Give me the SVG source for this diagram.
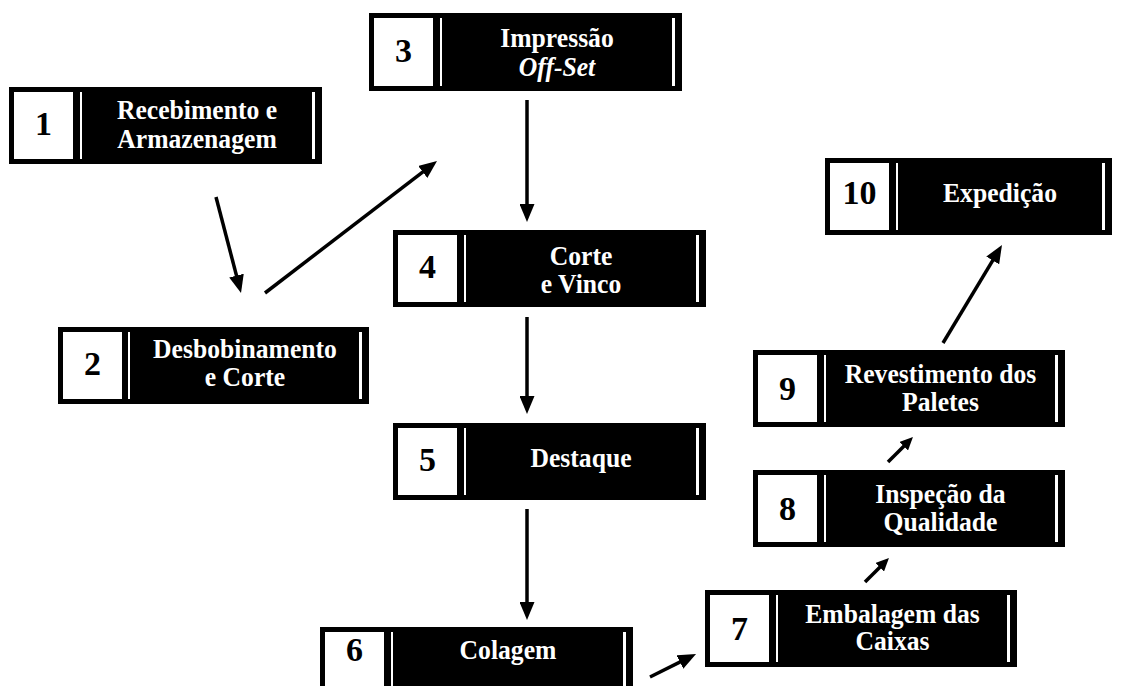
<svg xmlns="http://www.w3.org/2000/svg" width="1123" height="686" viewBox="0 0 1123 686">
  <style>
    .box { fill: #000; }
    .sq { fill: #fff; }
    .bar { fill: #fff; }
    .num { font-family: "Liberation Serif", "Times New Roman", serif; font-weight: bold; font-size: 34px; fill: #000; text-anchor: middle; }
    .lbl { font-family: "Liberation Serif", "Times New Roman", serif; font-weight: bold; font-size: 27px; fill: #fff; text-anchor: middle; }
    .it { font-style: italic; }
    .arrow { stroke: #000; stroke-width: 3.5; fill: none; }
  </style>
  <defs>
    <marker id="head" markerUnits="userSpaceOnUse" markerWidth="18" markerHeight="15" refX="6" refY="7.5" orient="auto">
      <path d="M0,0 L18,7.5 L0,15 z" fill="#000"/>
    </marker>
    <marker id="headSmall" markerUnits="userSpaceOnUse" markerWidth="13" markerHeight="12" refX="4" refY="6" orient="auto">
      <path d="M0,0 L13,6 L0,12 z" fill="#000"/>
    </marker>
  </defs>
  <rect width="1123" height="686" fill="#fff"/>

  <!-- step 1 -->
  <g id="node1">
    <rect class="box" x="9" y="87" width="313" height="77"/>
    <rect class="sq" x="14" y="92" width="59" height="67"/>
    <rect class="bar" x="80" y="92" width="2" height="67"/>
    <rect class="bar" x="312" y="92" width="3" height="67"/>
    <text class="num" x="43.5" y="135">1</text>
    <text class="lbl" transform="translate(197 0) scale(0.95 1)"><tspan x="0" y="119">Recebimento e</tspan><tspan x="0" y="148">Armazenagem</tspan></text>
  </g>

  <!-- step 2 -->
  <g id="node2">
    <rect class="box" x="58" y="327" width="311" height="77"/>
    <rect class="sq" x="63" y="332" width="59" height="67"/>
    <rect class="bar" x="128" y="332" width="2" height="67"/>
    <rect class="bar" x="359" y="332" width="3" height="67"/>
    <text class="num" x="92.5" y="375">2</text>
    <text class="lbl" transform="translate(245 0) scale(0.95 1)"><tspan x="0" y="358">Desbobinamento</tspan><tspan x="0" y="386">e Corte</tspan></text>
  </g>

  <!-- step 3 -->
  <g id="node3">
    <rect class="box" x="369" y="13" width="313" height="78"/>
    <rect class="sq" x="374" y="18" width="59" height="68"/>
    <rect class="bar" x="440" y="18" width="2" height="68"/>
    <rect class="bar" x="672" y="18" width="3" height="68"/>
    <text class="num" x="403.5" y="62">3</text>
    <text class="lbl" transform="translate(557 0) scale(0.95 1)"><tspan x="0" y="47">Impressão</tspan><tspan class="it" x="0" y="76">Off-Set</tspan></text>
  </g>

  <!-- step 4 -->
  <g id="node4">
    <rect class="box" x="393" y="230" width="313" height="77"/>
    <rect class="sq" x="398" y="235" width="59" height="67"/>
    <rect class="bar" x="464" y="235" width="2" height="67"/>
    <rect class="bar" x="696" y="235" width="3" height="67"/>
    <text class="num" x="427.5" y="278">4</text>
    <text class="lbl" transform="translate(581 0) scale(0.95 1)"><tspan x="0" y="265">Corte</tspan><tspan x="0" y="293">e Vinco</tspan></text>
  </g>

  <!-- step 5 -->
  <g id="node5">
    <rect class="box" x="393" y="423" width="313" height="77"/>
    <rect class="sq" x="398" y="428" width="59" height="67"/>
    <rect class="bar" x="464" y="428" width="2" height="67"/>
    <rect class="bar" x="696" y="428" width="3" height="67"/>
    <text class="num" x="427.5" y="471">5</text>
    <text class="lbl" transform="translate(581 0) scale(0.95 1)" x="0" y="467">Destaque</text>
  </g>

  <!-- step 6 (runs off the lower edge) -->
  <g id="node6">
    <rect class="box" x="320" y="627" width="313" height="77"/>
    <rect class="sq" x="325" y="632" width="59" height="67"/>
    <rect class="bar" x="391" y="632" width="2" height="67"/>
    <rect class="bar" x="623" y="632" width="3" height="67"/>
    <text class="num" x="354.5" y="661">6</text>
    <text class="lbl" transform="translate(508 0) scale(0.95 1)" x="0" y="659">Colagem</text>
  </g>

  <!-- step 7 -->
  <g id="node7">
    <rect class="box" x="705" y="590" width="312" height="77"/>
    <rect class="sq" x="710" y="595" width="59" height="67"/>
    <rect class="bar" x="776" y="595" width="2" height="67"/>
    <rect class="bar" x="1007" y="595" width="3" height="67"/>
    <text class="num" x="739.5" y="640">7</text>
    <text class="lbl" transform="translate(892.5 0) scale(0.95 1)"><tspan x="0" y="623">Embalagem das</tspan><tspan x="0" y="650">Caixas</tspan></text>
  </g>

  <!-- step 8 -->
  <g id="node8">
    <rect class="box" x="753" y="470" width="312" height="77"/>
    <rect class="sq" x="758" y="475" width="59" height="67"/>
    <rect class="bar" x="824" y="475" width="2" height="67"/>
    <rect class="bar" x="1055" y="475" width="3" height="67"/>
    <text class="num" x="787.5" y="520">8</text>
    <text class="lbl" transform="translate(940.5 0) scale(0.95 1)"><tspan x="0" y="503">Inspeção da</tspan><tspan x="0" y="531">Qualidade</tspan></text>
  </g>

  <!-- step 9 -->
  <g id="node9">
    <rect class="box" x="753" y="350" width="312" height="77"/>
    <rect class="sq" x="758" y="355" width="59" height="67"/>
    <rect class="bar" x="824" y="355" width="2" height="67"/>
    <rect class="bar" x="1055" y="355" width="3" height="67"/>
    <text class="num" x="787.5" y="400">9</text>
    <text class="lbl" transform="translate(940.5 0) scale(0.95 1)"><tspan x="0" y="383">Revestimento dos</tspan><tspan x="0" y="411">Paletes</tspan></text>
  </g>

  <!-- step 10 -->
  <g id="node10">
    <rect class="box" x="825" y="158" width="287" height="77"/>
    <rect class="sq" x="830" y="163" width="59" height="67"/>
    <rect class="bar" x="896" y="163" width="2" height="67"/>
    <rect class="bar" x="1102" y="163" width="3" height="67"/>
    <text class="num" x="859.5" y="204">10</text>
    <text class="lbl" transform="translate(1000 0) scale(0.95 1)" x="0" y="202">Expedição</text>
  </g>

  <!-- flow arrows -->
  <g id="connectors">
    <line class="arrow" x1="216" y1="197" x2="238" y2="281.4" marker-end="url(#head)"/>
    <line class="arrow" x1="265" y1="293" x2="427.5" y2="168.3" marker-end="url(#head)"/>
    <line class="arrow" x1="527" y1="100" x2="527" y2="210" marker-end="url(#head)"/>
    <line class="arrow" x1="527" y1="317" x2="527" y2="402" marker-end="url(#head)"/>
    <line class="arrow" x1="527" y1="509" x2="527" y2="608" marker-end="url(#head)"/>
    <line class="arrow" x1="650" y1="677" x2="685.3" y2="659.4" marker-end="url(#head)"/>
    <line class="arrow" x1="865" y1="582" x2="882.6" y2="564.4" marker-end="url(#headSmall)"/>
    <line class="arrow" x1="888" y1="462" x2="906.6" y2="443.4" marker-end="url(#headSmall)"/>
    <line class="arrow" x1="943" y1="343" x2="995.8" y2="255.3" marker-end="url(#head)"/>
  </g>
</svg>
